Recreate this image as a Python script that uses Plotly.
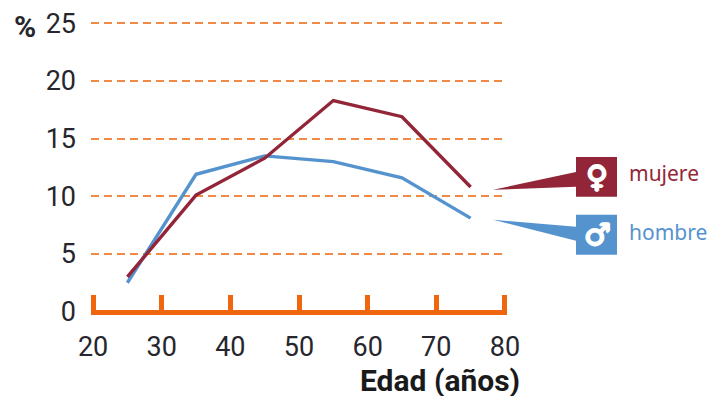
import plotly.graph_objects as go

edades = [25, 35, 45, 55, 65, 75]
mujeres = [3.0, 10.1, 13.3, 18.3, 16.9, 10.8]
hombres = [2.5, 11.9, 13.5, 13.0, 11.6, 8.1]
x_ticks = [20, 30, 40, 50, 60, 70, 80]
y_ticks = [0, 5, 10, 15, 20, 25]

MAROON = "#922638"
BLUE = "#5593CE"
ORANGE = "#F0660E"
GRID = "#F08A45"
TEXT = "#26262C"
FONT = "Roboto, sans-serif"
W, H = 708, 396
PLOT_L, PLOT_T, PLOT_W, PLOT_H = 91.0, 20.7, 416.0, 294.8


def px(x):
    return (x - PLOT_L) / PLOT_W


def py(y):
    return (PLOT_T + PLOT_H - y) / PLOT_H


def path(points):
    return "M " + " L ".join(f"{px(a):.5f},{py(b):.5f}" for a, b in points) + " Z"


fig = go.Figure()
fig.add_trace(go.Scatter(x=edades, y=hombres, mode="lines", name="hombres",
                         line=dict(color=BLUE, width=3.4), showlegend=False))
fig.add_trace(go.Scatter(x=edades, y=mujeres, mode="lines", name="mujeres",
                         line=dict(color=MAROON, width=3.4), showlegend=False))

shapes = []
for col, sq, tri in [
    (MAROON, (576, 157, 617, 197), [(493, 190), (576, 172), (576, 187)]),
    (BLUE, (576, 215, 617, 255), [(493, 220), (576, 227), (576, 241)]),
]:
    shapes.append(dict(type="rect", xref="paper", yref="paper", layer="above",
                       x0=px(sq[0]), x1=px(sq[2]), y0=py(sq[3]), y1=py(sq[1]),
                       fillcolor=col, line=dict(width=0)))
    shapes.append(dict(type="path", xref="paper", yref="paper", layer="above",
                       path=path(tri), fillcolor=col, line=dict(width=0)))


def note(text, x, y, size, color, xanchor="center", font=FONT, shadow=None):
    f = dict(size=size, color=color, family=font)
    if shadow:
        f["shadow"] = shadow
    return dict(text=text, xref="paper", yref="paper", x=px(x), y=py(y),
                xanchor=xanchor, yanchor="middle", showarrow=False,
                borderpad=0, borderwidth=0, font=f)


HEAVY = "1px 0 0 white, -1px 0 0 white, 0 1px 0 white, 0 -1px 0 white"
annotations = [
    note("<b>%</b>", 25, 26, 30, TEXT),
    note("<b>Edad (años)</b>", 520, 381, 30, "#1A1A1A", "right"),
    note("♀", 597, 177, 30, "white", font="DejaVu Sans", shadow=HEAVY),
    note("♂", 597, 235, 30, "white", font="DejaVu Sans", shadow=HEAVY),
    note("mujere", 629, 173, 21, MAROON, "left", "Noto Sans"),
    note("hombre", 629, 232, 21, BLUE, "left", "Noto Sans"),
]

fig.update_layout(
    width=W, height=H, autosize=False,
    margin=dict(l=PLOT_L, r=W - PLOT_L - PLOT_W,
                t=PLOT_T, b=H - PLOT_T - PLOT_H, autoexpand=False),
    paper_bgcolor="white", plot_bgcolor="white",
    showlegend=False, shapes=shapes, annotations=annotations,
    xaxis=dict(range=[19.7, 80.3], tickmode="array", tickvals=x_ticks,
               ticks="inside", ticklen=15, tickwidth=5, tickcolor=ORANGE,
               showline=True, linecolor=ORANGE, linewidth=5,
               anchor="free", position=0.0119,
               showgrid=False, zeroline=False, ticklabelstandoff=9,
               tickfont=dict(size=27, color=TEXT, family=FONT)),
    yaxis=dict(range=[-0.3, 25.2], tickmode="array", tickvals=y_ticks,
               ticks="", showline=False, zeroline=False,
               showgrid=True, gridcolor=GRID, gridwidth=1.5, griddash="8px,5px",
               ticklabelstandoff=14, ticklabeloverflow="allow",
               tickfont=dict(size=27, color=TEXT, family=FONT)),
)
fig.write_html("out.html", config={"displayModeBar": False},
               post_script="document.body.style.margin='0';")
